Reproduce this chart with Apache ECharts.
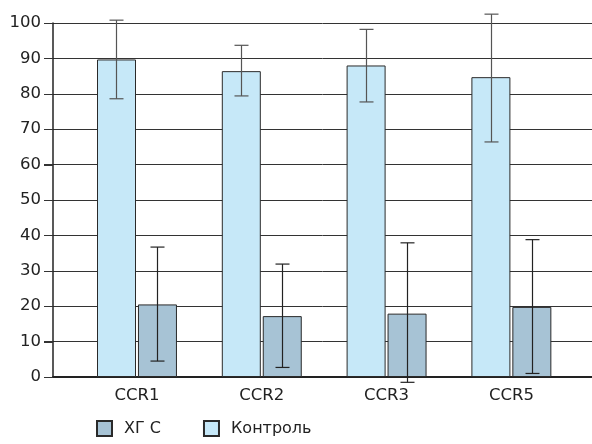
<!DOCTYPE html>
<html><head><meta charset="utf-8">
<script src="https://cdn.jsdelivr.net/npm/echarts@6/dist/echarts.min.js"></script>
<style>html,body{margin:0;padding:0;background:#fff}#c{width:592px;height:444px}</style>
</head><body><div id="c"></div>
<script>
const categories = ['CCR1', 'CCR2', 'CCR3', 'CCR5'];
const controlValues = [89.7, 86.4, 88.0, 84.7];
const controlLow = [78.6, 79.4, 77.7, 66.4];
const controlHigh = [100.8, 93.7, 98.2, 102.5];
const hgcValues = [20.5, 17.2, 17.9, 19.8];
const hgcLow = [4.5, 2.7, -1.5, 1.0];
const hgcHigh = [36.7, 31.9, 37.9, 38.8];
const yTicks = [0, 10, 20, 30, 40, 50, 60, 70, 80, 90, 100];

const X_MIN = -0.673, X_MAX = 3.646;
const FONT = '"DejaVu Sans", sans-serif';
const chart = echarts.init(document.getElementById('c'), null, {renderer: 'canvas'});

function errBar(offset, color) {
  return function (params, api) {
    const x = api.value(0);
    const lo = api.coord([x, api.value(1)]);
    const hi = api.coord([x, api.value(2)]);
    const cx = Math.round(lo[0] + offset) + 0.5;
    const hw = 7;
    const style = {stroke: color, lineWidth: 1.2, fill: null};
    return {
      type: 'group',
      children: [
        {type: 'line', shape: {x1: cx, y1: lo[1], x2: cx, y2: hi[1]}, style},
        {type: 'line', shape: {x1: cx - hw, y1: lo[1], x2: cx + hw, y2: lo[1]}, style},
        {type: 'line', shape: {x1: cx - hw, y1: hi[1], x2: cx + hw, y2: hi[1]}, style}
      ]
    };
  };
}

function yTick(params, api) {
  const p = api.coord([X_MIN, api.value(0)]);
  const y = Math.round(p[1]) + 0.5;
  return {type: 'line', shape: {x1: p[0] - 9, y1: y, x2: p[0], y2: y},
          style: {stroke: '#333', lineWidth: 1}};
}

chart.setOption({
  animation: false,
  grid: {left: 53, right: 0, top: 23, bottom: 67},
  legend: {
    data: ['ХГ С', 'Контроль'],
    left: 96, top: 420, padding: 0,
    itemWidth: 15, itemHeight: 15, itemGap: 42,
    icon: 'rect',
    textStyle: {fontFamily: FONT, fontSize: 16, color: '#222', padding: [0, 0, 0, 7]}
  },
  xAxis: {
    type: 'value',
    min: X_MIN, max: X_MAX,
    axisLine: {show: true, onZero: false, lineStyle: {color: '#222', width: 2}},
    axisTick: {show: false},
    splitLine: {show: false},
    axisLabel: {
      customValues: [0, 1, 2, 3],
      formatter: v => categories[Math.round(v)],
      fontFamily: FONT, fontSize: 16.5, color: '#222', margin: 10
    }
  },
  yAxis: {
    type: 'value', min: 0, max: 100, interval: 10,
    axisLine: {show: true, onZero: false, lineStyle: {color: '#222', width: 1.5}},
    axisTick: {show: true, length: 9, lineStyle: {color: '#333', width: 1}},
    splitLine: {show: true, lineStyle: {color: '#333', width: 1}},
    axisLabel: {
      fontFamily: FONT, fontSize: 16.5, color: '#222', margin: 12
    }
  },
  series: [
    {
      name: 'Контроль', type: 'bar', barWidth: 39, barGap: '5%',
      itemStyle: {color: '#c6e8f8', borderColor: '#2a2a2a', borderWidth: 1},
      data: controlValues.map((v, i) => [i, v]), z: 2
    },
    {
      name: 'ХГ С', type: 'bar', barWidth: 39, barGap: '5%',
      itemStyle: {color: '#a7c3d5', borderColor: '#2a2a2a', borderWidth: 1},
      data: hgcValues.map((v, i) => [i, v]), z: 2
    },
    {
      name: 'errC', type: 'custom', renderItem: errBar(-20.5, '#555'),
      data: controlLow.map((v, i) => [i, v, controlHigh[i]]), z: 5
    },
    {
      name: 'errH', type: 'custom', renderItem: errBar(20.5, '#222'),
      data: hgcLow.map((v, i) => [i, v, hgcHigh[i]]), z: 5
    },
    {
      name: 'yTicks', type: 'custom', renderItem: yTick, clip: false,
      data: yTicks.map(v => [v]), encode: {y: 0}, z: 5
    }
  ]
});
</script></body></html>
